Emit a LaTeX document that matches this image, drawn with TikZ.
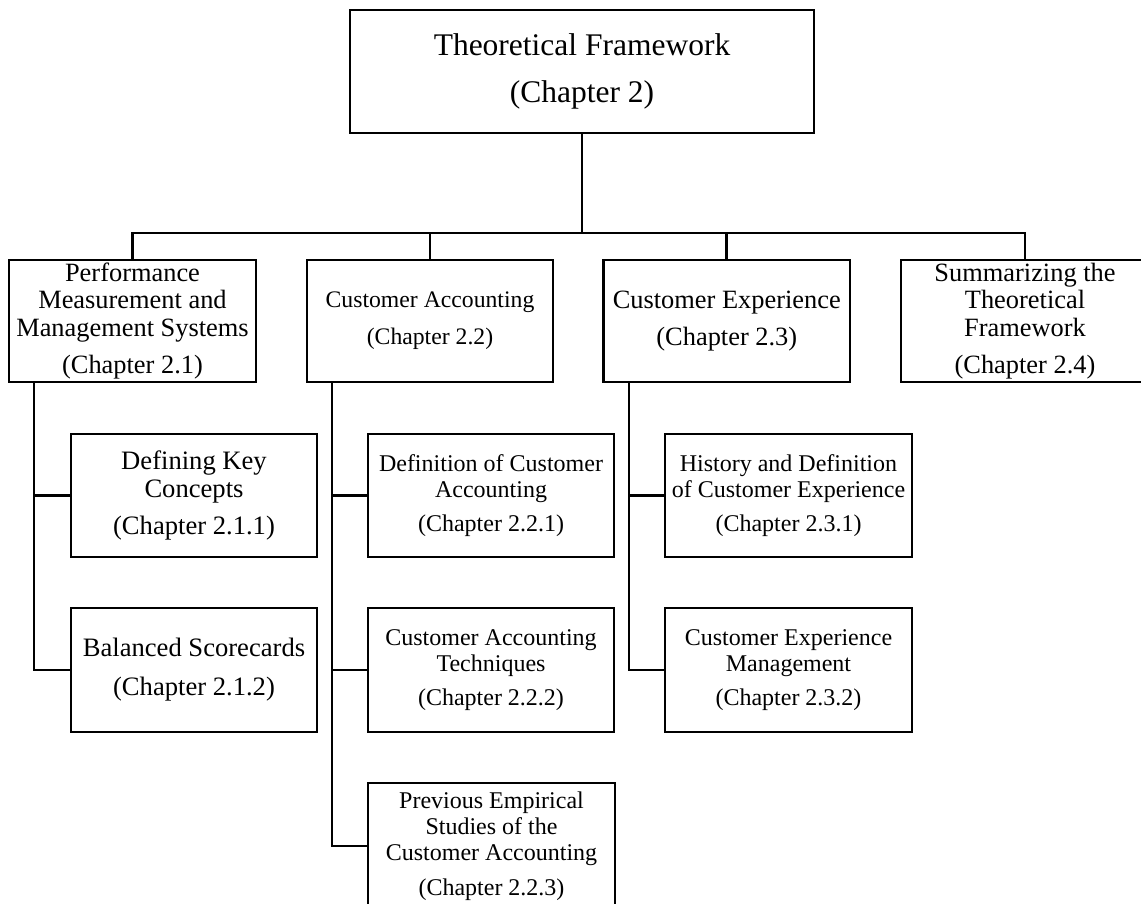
\documentclass[tikz,border=0pt]{standalone}
\usepackage{fontspec}
\setmainfont{Liberation Serif}
\begin{document}
\begin{tikzpicture}[x=1pt,y=-1pt]
\tikzset{
  box/.style={draw, line width=2.8pt, inner sep=0pt, align=center, anchor=center},
  bigf/.style={font=\fontsize{26.4}{27.5}\selectfont},
  midf/.style={font=\fontsize{24}{26}\selectfont},
  conn/.style={line width=2.8pt},
}
\useasboundingbox (0,0) rectangle (1141,904);
\clip (0,0) rectangle (1141,904);
% top
\node[box, minimum width=464pt, minimum height=123pt, font=\fontsize{31.5}{47}\selectfont] (top) at (582,71.5) {Theoretical Framework\\(Chapter 2)};
% row 1
\node[box, bigf, minimum width=247pt, minimum height=122pt] (b1) at (132.5,321) {Performance\\Measurement and\\Management Systems\\[9.5pt](Chapter 2.1)};
\node[box, font=\fontsize{23.7}{27}\selectfont, minimum width=246pt, minimum height=122pt] (b2) at (430,321) {Customer Accounting\\[10pt](Chapter 2.2)};
\node[box, bigf, minimum width=246.5pt, minimum height=122pt] (b3) at (726.8,321) {Customer Experience\\[9.5pt](Chapter 2.3)};
\node[box, bigf, minimum width=248pt, minimum height=122pt] (b4) at (1025,321) {Summarizing the\\Theoretical\\Framework\\[9.5pt](Chapter 2.4)};
% column 1
\node[box, font=\fontsize{26.6}{28}\selectfont, minimum width=246pt, minimum height=123pt] (s1a) at (194,495.5) {Defining Key\\Concepts\\[9pt](Chapter 2.1.1)};
\node[box, font=\fontsize{26.6}{28}\selectfont, minimum width=246pt, minimum height=124pt] (s1b) at (194,670) {Balanced Scorecards\\[11pt](Chapter 2.1.2)};
% column 2
\node[box, midf, minimum width=246pt, minimum height=123pt] (s2a) at (491,495.5) {Definition of Customer\\Accounting\\[8pt](Chapter 2.2.1)};
\node[box, midf, minimum width=246pt, minimum height=124pt] (s2b) at (491,670) {Customer Accounting\\Techniques\\[8pt](Chapter 2.2.2)};
\node[box, midf, minimum width=247pt, minimum height=126pt] (s2c) at (491.5,846) {Previous Empirical\\Studies of the\\Customer Accounting\\[9pt](Chapter 2.2.3)};
% column 3
\node[box, midf, minimum width=247pt, minimum height=123pt] (s3a) at (788.5,495.5) {History and Definition\\of Customer Experience\\[8pt](Chapter 2.3.1)};
\node[box, midf, minimum width=247pt, minimum height=124pt] (s3b) at (788.5,670) {Customer Experience\\Management\\[8pt](Chapter 2.3.2)};
% connectors
\coordinate (hub) at (582,233);
\draw[conn] (top.south) -- (hub);
\draw[conn] (hub) -| (b1.north);
\draw[conn] (hub) -| (b2.north);
\draw[conn] (hub) -| (b3.north);
\draw[conn] (hub) -| (b4.north);
\coordinate (v1) at (34,382);
\draw[conn] (v1) |- (s1b.west);
\draw[conn] (v1 |- s1a.west) -- (s1a.west);
\coordinate (v2) at (332,382);
\draw[conn] (v2) |- (s2c.west);
\draw[conn] (v2 |- s2a.west) -- (s2a.west);
\draw[conn] (v2 |- s2b.west) -- (s2b.west);
\coordinate (v3) at (629,382);
\draw[conn] (v3) |- (s3b.west);
\draw[conn] (v3 |- s3a.west) -- (s3a.west);
\end{tikzpicture}
\end{document}
